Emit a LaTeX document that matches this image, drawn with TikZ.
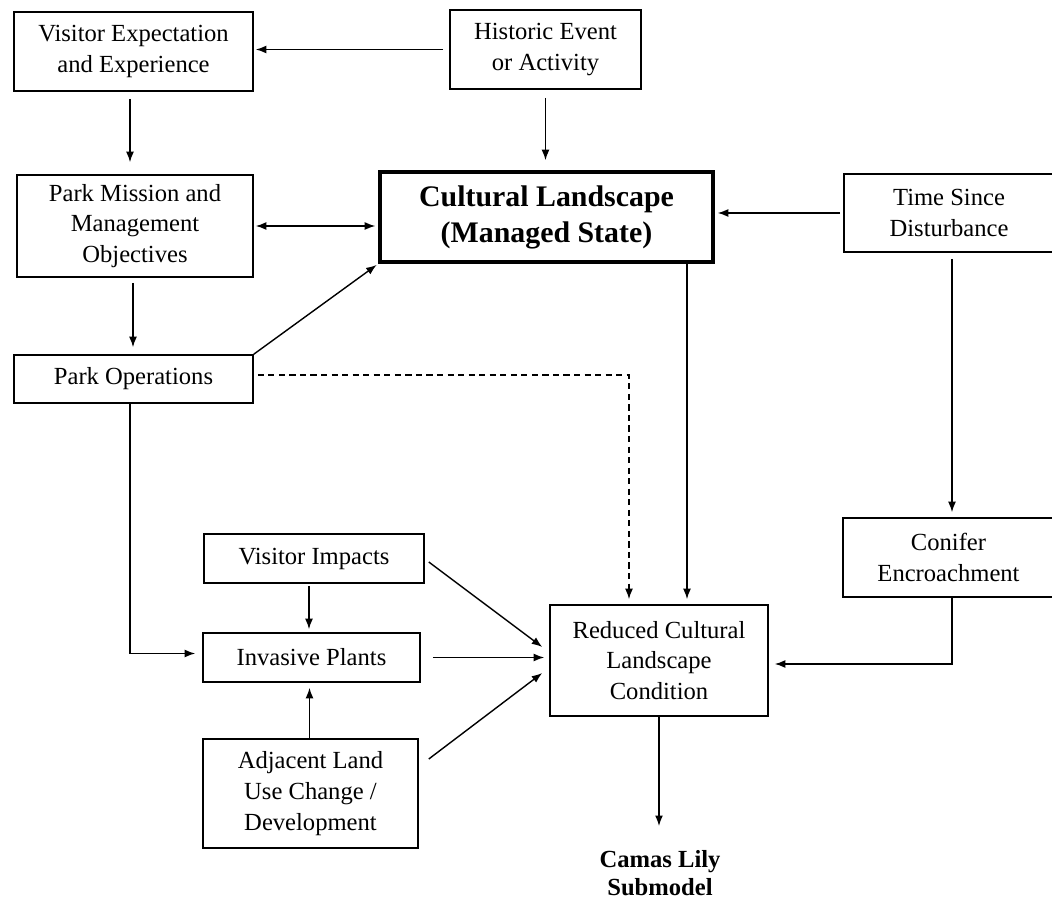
\documentclass[tikz,border=0pt]{standalone}
\usepackage{fontspec}
\setmainfont{Liberation Serif}
\usetikzlibrary{arrows.meta}
\begin{document}
\begin{tikzpicture}[x=0.02cm,y=-0.02cm,
  >={Latex[length=6pt,width=4.5pt]},
  box/.style={draw, line width=0.9pt, align=center, inner sep=0pt,
    font=\fontsize{14}{17.5}\selectfont},
  arr/.style={->, line width=0.8pt},
  darr/.style={<->, line width=0.8pt},
  dashline/.style={dash pattern=on 3.5pt off 2.5pt},
]
\clip (0,0) rectangle (1052,902);
\fill[white] (0,0) rectangle (1052,902);

% boxes
\node[box, minimum width=4.78cm, minimum height=1.58cm] (ve) at (133.5,51.5) {Visitor Expectation\\and Experience};
\node[box, minimum width=3.82cm, minimum height=1.58cm] (he) at (545.5,49.5) {Historic Event\\or Activity};
\node[box, minimum width=4.72cm, minimum height=2.04cm] (pm) at (135,226) {Park Mission and\\Management\\Objectives};
\node[box, line width=2pt, minimum width=6.66cm, minimum height=1.8cm,
      font=\bfseries\fontsize{17}{20.5}\selectfont] (cl) at (546.5,217) {Cultural Landscape\\(Managed State)};
\node[box, minimum width=4.2cm, minimum height=1.56cm] (ts) at (949,213) {Time Since\\Disturbance};
\node[box, minimum width=4.78cm, minimum height=0.96cm] (po) at (133.5,379) {Park Operations};
\node[box, minimum width=4.4cm, minimum height=0.98cm] (vi) at (314,558.5) {Visitor Impacts};
\node[box, minimum width=4.34cm, minimum height=0.98cm] (ip) at (311.5,657.5) {Invasive Plants};
\node[box, minimum width=4.3cm, minimum height=2.18cm] (al) at (310.5,793.5) {Adjacent Land\\Use Change /\\Development};
\node[box, minimum width=4.36cm, minimum height=2.22cm] (rc) at (659,660.5) {Reduced Cultural\\Landscape\\Condition};
\node[box, minimum width=4.22cm, minimum height=1.58cm] (ce) at (948.5,557.5) {Conifer\\Encroachment};
\node[font=\bfseries\fontsize{14}{16}\selectfont, align=center] (cm) at (660,873) {Camas Lily\\Submodel};

% connectors
\draw[arr, shorten <=0.12cm, shorten >=0.04cm] (he.west) -- (he.west -| ve.east);
\draw[arr, shorten <=0.16cm, shorten >=0.2cm] (he.south) -- (he.south |- cl.north);
\draw[arr, shorten <=0.14cm, shorten >=0.24cm] ([shift={(-3.5,0)}]ve.south) -- ([shift={(-3.5,0)}]ve.south |- pm.north);
\draw[darr, shorten <=0.04cm, shorten >=0.06cm] (pm.east) -- (pm.east -| cl.west);
\draw[arr, shorten <=0.06cm, shorten >=0.06cm] (ts.west) -- (ts.west -| cl.east);
\draw[arr, shorten <=0.1cm, shorten >=0.14cm] ([shift={(-2,0)}]pm.south) -- ([shift={(-2,0)}]pm.south |- po.north);
\draw[arr, shorten >=0.04cm] (po.north east) -- (cl.south west);
\draw[arr, dashline, shorten <=0.08cm, shorten >=0.1cm] ([shift={(0,-4)}]po.east) -| ([shift={(-30,0)}]rc.north);
\draw[arr, shorten >=0.1cm] ([shift={(140.5,0)}]cl.south) -- ([shift={(140.5,0)}]cl.south |- rc.north);
\draw[arr, shorten <=0.12cm, shorten >=0.1cm] ([shift={(3,0)}]ts.south) -- ([shift={(3,0)}]ts.south |- ce.north);
\draw[arr, shorten >=0.12cm] ([shift={(3.5,0)}]ce.south) |- ([shift={(0,3.5)}]rc.east);
\draw[arr, shorten >=0.14cm] ([shift={(-3.5,0)}]po.south) |- ([shift={(0,-4)}]ip.west);
\draw[arr, shorten <=0.04cm, shorten >=0.06cm] ([shift={(-5,0)}]vi.south) -- ([shift={(-5,0)}]vi.south |- ip.north);
\draw[arr, shorten >=0.1cm] ([shift={(-1,0)}]al.north) -- ([shift={(-1,0)}]al.north |- ip.south);
\draw[arr] ([shift={(4,3.5)}]vi.east) -- ([shift={(-7,-13.5)}]rc.west);
\draw[arr, shorten <=0.24cm, shorten >=0.1cm] (ip.east) -- (ip.east -| rc.west);
\draw[arr] ([shift={(10,-34.5)}]al.east) -- ([shift={(-7,12.5)}]rc.west);
\draw[arr, shorten >=0.36cm] (rc.south) -- (rc.south |- cm.north);
\end{tikzpicture}
\end{document}
